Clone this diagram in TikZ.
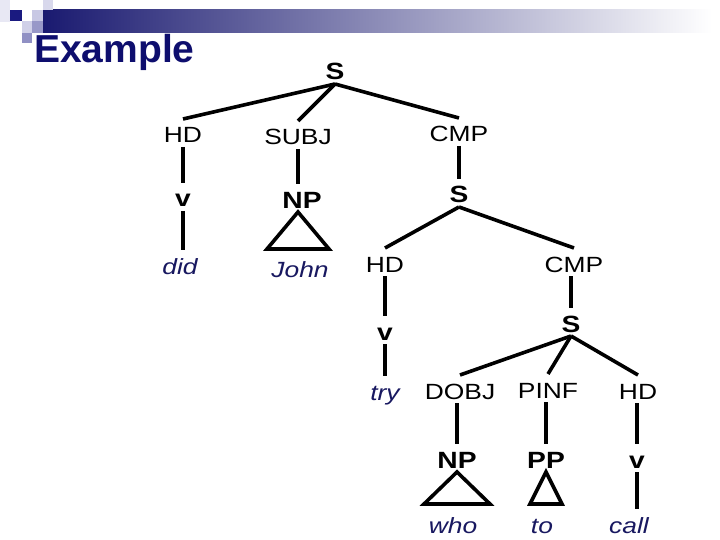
\documentclass[tikz,border=0pt]{standalone}
\usepackage{fontspec}
\setmainfont[FakeStretch=1.2]{Liberation Sans}
\newfontfamily\titlefont{Liberation Sans}
\definecolor{navy}{RGB}{14,14,110}
\definecolor{wordc}{RGB}{24,24,96}
\definecolor{bannerdark}{RGB}{26,26,112}
\begin{document}
\begin{tikzpicture}[x=1pt,y=-1pt,
  lab/.style={anchor=base,inner xsep=0pt,inner ysep=4pt,outer sep=0pt,text height=20pt,text depth=0pt,font=\fontsize{22}{22}\selectfont},
  cat/.style={lab,font=\fontsize{23.5}{24}\selectfont\bfseries},
  word/.style={lab,text=wordc,font=\fontsize{22}{22}\selectfont\itshape},
  edge/.style={line width=3.6pt},
  tri/.style={line width=3.6pt,line join=miter}]
\useasboundingbox (0,0) rectangle (720,540);
\fill[white] (0,0) rectangle (720,540);
% decoration
\fill[left color=bannerdark,right color=white] (43,10) rectangle (712,33);
\fill[color={rgb,255:red,232;green,232;blue,244}] (0,0) rectangle (10,22);
\fill[color={rgb,255:red,26;green,26;blue,128}] (10,10) rectangle (22,21);
\fill[color={rgb,255:red,200;green,200;blue,228}] (32,10) rectangle (43,21);
\fill[color={rgb,255:red,216;green,216;blue,236}] (43,0) rectangle (53,10);
\fill[color={rgb,255:red,208;green,208;blue,232}] (22,21) rectangle (32,33);
\fill[color={rgb,255:red,152;green,152;blue,200}] (32,21) rectangle (43,33);
\fill[color={rgb,255:red,144;green,144;blue,196}] (22,33) rectangle (32,43);
\node[anchor=base west,inner sep=0pt,text=navy,font=\fontsize{39}{39}\titlefont\bfseries] (title) at (34,63) {Example};
% nodes
\node[cat] (S0) at (335,80) {S};
\node[lab] (HD1) at (183,143) {HD};
\node[lab] (SUBJ) at (298,145) {SUBJ};
\node[lab] (CMP1) at (459,142) {CMP};
\node[cat] (v1) at (183,207) {v};
\node[cat] (NP1) at (302,208) {NP};
\node[cat] (S1) at (459,203) {S};
\node[word] (did) at (180,274) {did};
\node[word] (John) at (300,277) {John};
\node[lab] (HD2) at (385,272) {HD};
\node[lab] (CMP2) at (574,272) {CMP};
\node[cat] (v2) at (385,340) {v};
\node[cat] (S2) at (571,332) {S};
\node[word] (try) at (385,400) {try};
\node[lab] (DOBJ) at (460,399) {DOBJ};
\node[lab] (PINF) at (548,398) {PINF};
\node[lab] (HD3) at (638,399) {HD};
\node[cat] (NP3) at (457,468) {NP};
\node[cat] (PP) at (546,468) {PP};
\node[cat] (v3) at (637,468) {v};
\node[word] (who) at (453,533) {who};
\node[word] (to) at (542,533) {to};
\node[word] (call) at (629,533) {call};
% edges
\draw[edge] (S0.south) -- (HD1.north);
\draw[edge] (S0.south) -- (SUBJ.north);
\draw[edge] (S0.south) -- (CMP1.north);
\draw[edge] (HD1.south) -- (v1.north);
\draw[edge] (v1.south) -- (did.north -| v1.south);
\draw[edge] (SUBJ.south) -- (NP1.north -| SUBJ.south);
\draw[tri] (NP1.south -| SUBJ.south) -- ++(-31,37) -- ++(62,0) -- cycle;
\draw[edge] (CMP1.south -| S1.north) -- (S1.north);
\draw[edge] (S1.south) -- (HD2.north);
\draw[edge] (S1.south) -- (CMP2.north);
\draw[edge] (HD2.south) -- (v2.north);
\draw[edge] (v2.south) -- (try.north);
\draw[edge] (CMP2.south -| S2.north) -- (S2.north);
\draw[edge] (S2.south) -- (DOBJ.north);
\draw[edge] (S2.south) -- (PINF.north);
\draw[edge] (S2.south) -- (HD3.north);
\draw[edge] (DOBJ.south -| NP3.north) -- (NP3.north);
\draw[edge] (PINF.south -| PP.north) -- (PP.north);
\draw[edge] (HD3.south -| v3.north) -- (v3.north);
\draw[tri] (NP3.south) -- ++(-33,32) -- ++(66,0) -- cycle;
\draw[tri] (PP.south) -- ++(-16,32) -- ++(32,0) -- cycle;
\draw[edge] (v3.south) -- (call.north -| v3.south);
\end{tikzpicture}
\end{document}
